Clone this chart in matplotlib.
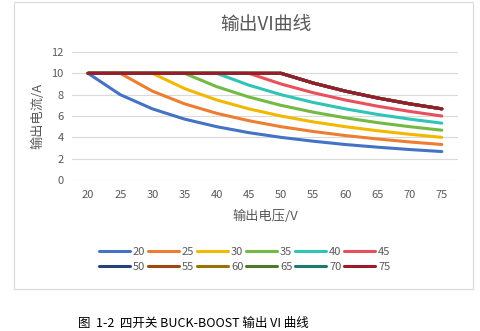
import matplotlib
matplotlib.use('Agg')
import matplotlib.pyplot as plt
from matplotlib.patches import Rectangle

plt.rcParams['font.family'] = ['Noto Sans CJK SC', 'DejaVu Sans']

VOLTAGES = ['20', '25', '30', '35', '40', '45', '50', '55', '60', '65', '70', '75']
SERIES_NAMES = ['20', '25', '30', '35', '40', '45', '50', '55', '60', '65', '70', '75']

S20 = [10, 8, 6.67, 5.71, 5, 4.44, 4, 3.64, 3.33, 3.08, 2.86, 2.67]
S25 = [10, 10, 8.33, 7.14, 6.25, 5.56, 5, 4.55, 4.17, 3.85, 3.57, 3.33]
S30 = [10, 10, 10, 8.57, 7.5, 6.67, 6, 5.45, 5, 4.62, 4.29, 4]
S35 = [10, 10, 10, 10, 8.75, 7.78, 7, 6.36, 5.83, 5.38, 5, 4.67]
S40 = [10, 10, 10, 10, 10, 8.89, 8, 7.27, 6.67, 6.15, 5.71, 5.33]
S45 = [10, 10, 10, 10, 10, 10, 9, 8.18, 7.5, 6.92, 6.43, 6]
S50 = [10, 10, 10, 10, 10, 10, 10, 9.09, 8.33, 7.69, 7.14, 6.67]
S55 = [10, 10, 10, 10, 10, 10, 10, 9.09, 8.33, 7.69, 7.14, 6.67]
S60 = [10, 10, 10, 10, 10, 10, 10, 9.09, 8.33, 7.69, 7.14, 6.67]
S65 = [10, 10, 10, 10, 10, 10, 10, 9.09, 8.33, 7.69, 7.14, 6.67]
S70 = [10, 10, 10, 10, 10, 10, 10, 9.09, 8.33, 7.69, 7.14, 6.67]
S75 = [10, 10, 10, 10, 10, 10, 10, 9.09, 8.33, 7.69, 7.14, 6.67]

SERIES = [S20, S25, S30, S35, S40, S45, S50, S55, S60, S65, S70, S75]
COLORS = ['#4472c4', '#ed7d31', '#f2b800', '#73b944', '#2ec4b6', '#e8505b',
          '#264478', '#9e480e', '#997300', '#4b7a2a', '#1e7a70', '#9b1b2a']

GRAY = '#595959'

fig = plt.figure(figsize=(4.8, 3.31), dpi=100)
fig.patch.set_facecolor('white')
fig.patches.append(Rectangle((14 / 480, 1 - 289 / 331), 459 / 480, 287 / 331,
                             transform=fig.transFigure, fill=False,
                             edgecolor='#d9d9d9', linewidth=0.8))

ax = fig.add_axes([0.15, 0.456, 0.804, 0.387])
x = list(range(len(VOLTAGES)))
handles = []
for name, vals, col in zip(SERIES_NAMES, SERIES, COLORS):
    h, = ax.plot(x, vals, color=col, linewidth=2.2, solid_capstyle='round', label=name)
    handles.append(h)

ax.set_xlim(-0.5, len(VOLTAGES) - 0.5)
ax.set_ylim(0, 12)
ax.set_yticks([0, 2, 4, 6, 8, 10, 12])
ax.set_xticks(x)
ax.set_xticklabels(VOLTAGES)
ax.tick_params(axis='both', length=0, labelsize=8, labelcolor=GRAY)
ax.tick_params(axis='x', pad=7)
ax.tick_params(axis='y', pad=6)
ax.grid(axis='y', color='#d9d9d9', linewidth=0.8)
ax.set_axisbelow(True)
for s in ax.spines.values():
    s.set_visible(False)

fig.text(0.553, 0.927, '输出VI曲线', ha='center', va='center', fontsize=13.5, color=GRAY)
fig.text(0.079, 0.65, '输出电流/A', ha='center', va='center', rotation=90, fontsize=9.5, color=GRAY)
fig.text(0.553, 0.347, '输出电压/V', ha='center', va='center', fontsize=9.5, color=GRAY)

order = []
for i in range(6):
    order += [i, i + 6]
leg = fig.legend([handles[i] for i in order], [SERIES_NAMES[i] for i in order],
                 ncol=6, loc='center', bbox_to_anchor=(0.51, 0.215), frameon=False,
                 fontsize=8, handlelength=2.8, handletextpad=0.25, columnspacing=0.25,
                 labelspacing=0.45)
for t in leg.get_texts():
    t.set_color(GRAY)

fig.text(78 / 480, 1 - 323 / 331, '图  1-2  四开关 BUCK-BOOST 输出 VI 曲线', ha='left', va='center',
         fontsize=9, color='black')

fig.savefig('out.png', dpi=100)
